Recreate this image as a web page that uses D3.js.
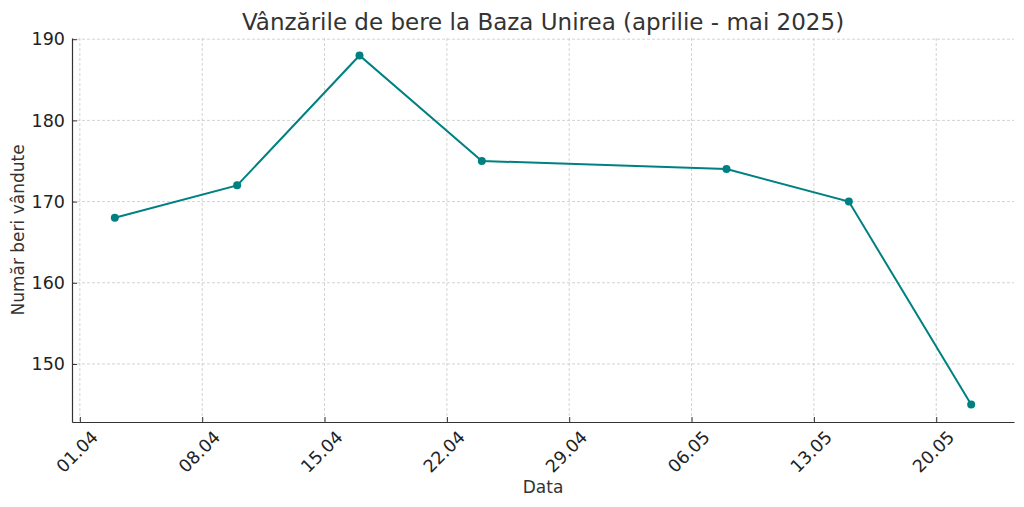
<!DOCTYPE html>
<html>
<head>
<meta charset="utf-8">
<script src="https://cdn.jsdelivr.net/npm/d3@7"></script>
<style>
  body { margin: 0; background: #fff; }
  text { font-family: "DejaVu Sans", sans-serif; fill: #333; }
</style>
</head>
<body>
<div id="chart"></div>
<script>
// date vânzări - sales data
var dates = ['2025-04-03', '2025-04-10', '2025-04-17', '2025-04-24', '2025-05-08', '2025-05-15', '2025-05-22'];
var sales = [168, 172, 188, 175, 174, 170, 145];
var yTicks = [150, 160, 170, 180, 190];
var xTickDates = ['2025-04-01', '2025-04-08', '2025-04-15', '2025-04-22', '2025-04-29', '2025-05-06', '2025-05-13', '2025-05-20'];

var W = 1024, H = 507;
var m = {top: 38, right: 10, bottom: 85, left: 72};

var parse = d3.timeParse('%Y-%m-%d');
var fmt = d3.timeFormat('%d.%m');
var points = dates.map(function(d, i){ return {date: parse(d), value: sales[i]}; });

var svg = d3.select('#chart').append('svg')
  .attr('width', W).attr('height', H);

// domenii cu marja 5% ca la matplotlib
var xe = d3.extent(points, function(d){ return d.date; });
var xpad = (xe[1] - xe[0]) * 0.05;
var ye = d3.extent(points, function(d){ return d.value; });
var ypad = (ye[1] - ye[0]) * 0.05;

var x = d3.scaleTime()
  .domain([new Date(+xe[0] - xpad), new Date(+xe[1] + xpad)])
  .range([m.left, W - m.right]);
var y = d3.scaleLinear()
  .domain([ye[0] - ypad, ye[1] + ypad])
  .range([H - m.bottom, m.top]);

var xt = xTickDates.map(parse);

// grila - grid
var grid = svg.append('g').attr('stroke', '#c8c8c8').attr('stroke-width', 0.8).attr('stroke-dasharray', '3,2');
grid.selectAll('.gx').data(xt).enter().append('line')
  .attr('x1', function(d){ return x(d); }).attr('x2', function(d){ return x(d); })
  .attr('y1', m.top).attr('y2', H - m.bottom);
grid.selectAll('.gy').data(yTicks).enter().append('line')
  .attr('y1', function(d){ return y(d); }).attr('y2', function(d){ return y(d); })
  .attr('x1', m.left).attr('x2', W - m.right);

// axe
var xAxis = svg.append('g')
  .attr('transform', 'translate(0,' + (H - m.bottom) + ')')
  .call(d3.axisBottom(x).tickValues(xt).tickFormat(fmt).tickSizeInner(-5).tickSizeOuter(0));
var yAxis = svg.append('g')
  .attr('transform', 'translate(' + m.left + ',0)')
  .call(d3.axisLeft(y).tickValues(yTicks).tickSizeInner(-5).tickSizeOuter(0));

[xAxis, yAxis].forEach(function(a){
  a.select('.domain').attr('stroke', '#333').attr('stroke-width', 1.2);
  a.selectAll('.tick line').attr('stroke', '#333').attr('stroke-width', 1);
  a.selectAll('.tick text').attr('font-size', 17.5).style('fill', '#222');
});

yAxis.selectAll('.tick text').attr('x', -7);

xAxis.selectAll('.tick text')
  .attr('y', 0).attr('dy', 0)
  .attr('text-anchor', 'middle')
  .attr('transform', 'translate(1,34) rotate(-45)');

// linia
var line = d3.line()
  .x(function(d){ return x(d.date); })
  .y(function(d){ return y(d.value); });

svg.append('path').datum(points)
  .attr('fill', 'none').attr('stroke', '#008080').attr('stroke-width', 2)
  .attr('d', line);

svg.selectAll('.pt').data(points).enter().append('circle')
  .attr('cx', function(d){ return x(d.date); })
  .attr('cy', function(d){ return y(d.value); })
  .attr('r', 4).attr('fill', '#008080');

// titluri
svg.append('text')
  .attr('x', (m.left + W - m.right) / 2).attr('y', 30)
  .attr('text-anchor', 'middle').attr('font-size', 23)
  .text('Vânzările de bere la Baza Unirea (aprilie - mai 2025)');

svg.append('text')
  .attr('x', (m.left + W - m.right) / 2).attr('y', 493)
  .attr('text-anchor', 'middle').attr('font-size', 17)
  .text('Data');

svg.append('text')
  .attr('transform', 'translate(24,' + ((m.top + H - m.bottom) / 2) + ') rotate(-90)')
  .attr('text-anchor', 'middle').attr('font-size', 17)
  .text('Număr beri vândute');
</script>
</body>
</html>
